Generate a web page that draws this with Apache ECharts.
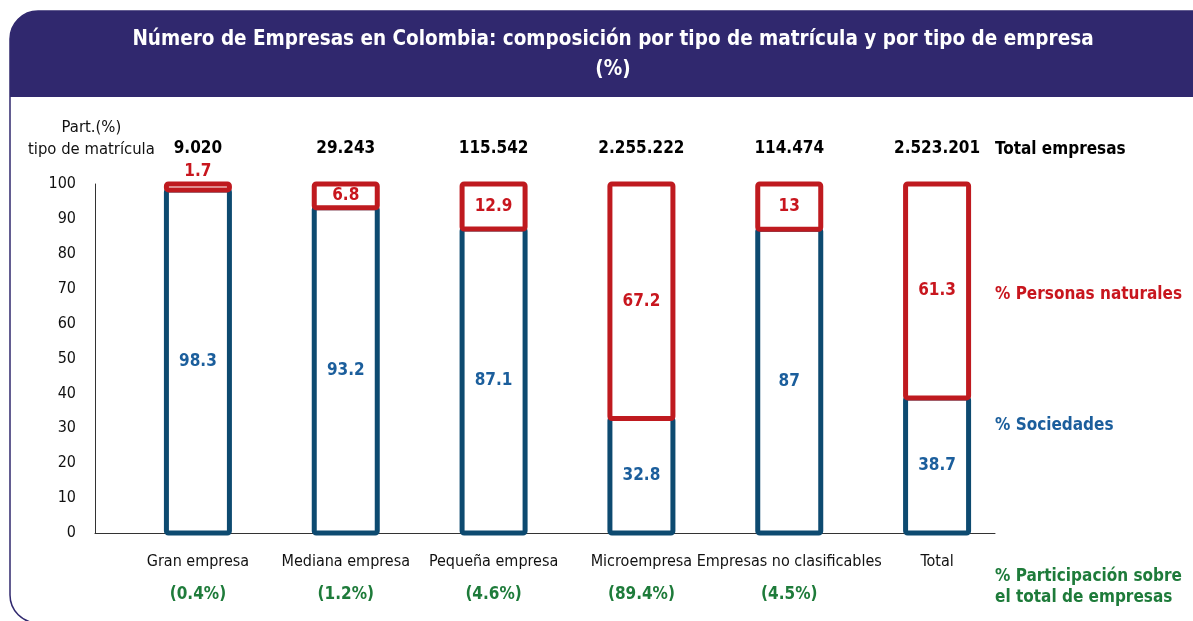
<!DOCTYPE html>
<html>
<head>
<meta charset="utf-8">
<script src="https://cdn.jsdelivr.net/npm/echarts@6/dist/echarts.min.js"></script>
<style>
  html, body { margin: 0; padding: 0; background: #fff; }
  #chart { width: 1193px; height: 621px; }
</style>
</head>
<body>
<div id="chart"></div>
<script>
// tipos de empresa
const categorias = ['Gran empresa', 'Mediana empresa', 'Pequeña empresa', 'Microempresa', 'Empresas no clasificables', 'Total']
// % participación sobre el total de empresas
const participacion = ['(0.4%)', '(1.2%)', '(4.6%)', '(89.4%)', '(4.5%)', '']
// total empresas por tipo
const totalEmpresas = ['9.020', '29.243', '115.542', '2.255.222', '114.474', '2.523.201']
// % sociedades
const sociedades = [98.3, 93.2, 87.1, 32.8, 87, 38.7]
// % personas naturales
const personasNaturales = [1.7, 6.8, 12.9, 67.2, 13, 61.3]

const FONT = '"DejaVu Sans Condensed", "Liberation Sans Narrow", "Liberation Sans", sans-serif'
const AZUL = '#0d4a70'
const AZUL_TXT = '#1b5e9c'
const ROJO = '#bf1a1f'
const ROJO_TXT = '#c8161e'
const VERDE = '#1e7b3a'
const MORADO = '#30286e'
const ANCHO_BARRA = 63

const myChart = echarts.init(document.getElementById('chart'))

// barra apilada con borde centrado (sin hueco entre segmentos)
const renderBarra = (borde, colorTxt, posTop) => (params, api) => {
  const i = api.value(0)
  const base = api.value(1)
  const v = api.value(2)
  const p0 = api.coord([i, base])
  const p1 = api.coord([i, base + v])
  const arriba = posTop.includes(params.dataIndex)
  return {
    type: 'rect',
    shape: { x: p0[0] - ANCHO_BARRA / 2, y: p1[1], width: ANCHO_BARRA, height: p0[1] - p1[1], r: 2 },
    style: { fill: '#fff', stroke: borde, lineWidth: 5 },
    textContent: {
      style: { text: String(v), fill: colorTxt, font: 'bold 17px ' + FONT }
    },
    textConfig: { position: arriba ? 'top' : 'inside', distance: 1 }
  }
}

const option = {
  backgroundColor: '#fff',
  textStyle: { fontFamily: FONT },
  title: {
    text: 'Número de Empresas en Colombia: composición por tipo de matrícula y por tipo de empresa\n(%)',
    left: 608,
    top: 20,
    textAlign: 'center',
    textStyle: { color: '#fff', fontSize: 20.5, fontWeight: 'bold', fontFamily: FONT, lineHeight: 30 }
  },
  graphic: [
    {
      type: 'rect', z: -1,
      shape: { x: 10, y: 11, width: 1200, height: 612, r: [28, 0, 0, 28] },
      style: { fill: '#fff', stroke: MORADO, lineWidth: 1.5 }
    },
    {
      type: 'rect', z: 0,
      shape: { x: 10, y: 11, width: 1200, height: 86, r: [28, 0, 0, 0] },
      style: { fill: MORADO }
    },
    {
      type: 'text', left: 28, top: 117,
      style: { text: 'Part.(%)\ntipo de matrícula', fill: '#111', font: '16.5px ' + FONT, textAlign: 'center', lineHeight: 22 }
    },
    {
      type: 'text', left: 995, top: 141,
      style: { text: 'Total empresas', fill: '#000', font: 'bold 17px ' + FONT }
    },
    {
      type: 'text', left: 995, top: 286,
      style: { text: '% Personas naturales', fill: ROJO_TXT, font: 'bold 17px ' + FONT }
    },
    {
      type: 'text', left: 995, top: 417,
      style: { text: '% Sociedades', fill: AZUL_TXT, font: 'bold 17px ' + FONT }
    },
    {
      type: 'text', left: 995, top: 566,
      style: { text: '% Participación sobre\nel total de empresas', fill: VERDE, font: 'bold 17px ' + FONT, lineHeight: 21 }
    }
  ],
  grid: [
    { left: 124, width: 887, top: 184, height: 349 },
    { left: 95, width: 900, top: 184, height: 349 }
  ],
  xAxis: [
    {
      type: 'category',
      gridIndex: 0,
      data: categorias,
      axisLine: { show: false },
      axisTick: { show: false },
      axisLabel: {
        interval: 0,
        margin: 12,
        formatter: (v, i) => '{n|' + v + '}\n{p|' + participacion[i] + '}',
        rich: {
          n: { fontSize: 16, color: '#111', lineHeight: 33, fontFamily: FONT },
          p: { fontSize: 17, color: VERDE, fontWeight: 'bold', lineHeight: 33, fontFamily: FONT }
        }
      }
    },
    {
      type: 'category',
      gridIndex: 0,
      position: 'top',
      data: totalEmpresas,
      axisLine: { show: false },
      axisTick: { show: false },
      axisLabel: { interval: 0, margin: 27, color: '#000', fontSize: 17, fontWeight: 'bold', fontFamily: FONT }
    },
    {
      type: 'category',
      gridIndex: 1,
      data: [''],
      axisLine: { lineStyle: { color: '#333', width: 1 } },
      axisTick: { show: false },
      axisLabel: { show: false }
    }
  ],
  yAxis: [
    {
      type: 'value',
      gridIndex: 0,
      min: 0,
      max: 100,
      interval: 10,
      offset: 29,
      axisLine: { show: true, lineStyle: { color: '#333', width: 1 } },
      axisTick: { show: false },
      splitLine: { show: false },
      axisLabel: { margin: 19, color: '#111', fontSize: 16, fontFamily: FONT }
    },
    { type: 'value', gridIndex: 1, show: false, min: 0, max: 100 }
  ],
  series: [
    {
      name: '% Sociedades',
      type: 'custom',
      renderItem: renderBarra(AZUL, AZUL_TXT, []),
      encode: { x: 0, y: 2 },
      data: sociedades.map((v, i) => [i, 0, v])
    },
    {
      name: '% Personas naturales',
      type: 'custom',
      renderItem: renderBarra(ROJO, ROJO_TXT, [0]),
      encode: { x: 0, y: 2 },
      data: personasNaturales.map((v, i) => [i, sociedades[i], v])
    }
  ]
}

myChart.setOption(option)
</script>
</body>
</html>
